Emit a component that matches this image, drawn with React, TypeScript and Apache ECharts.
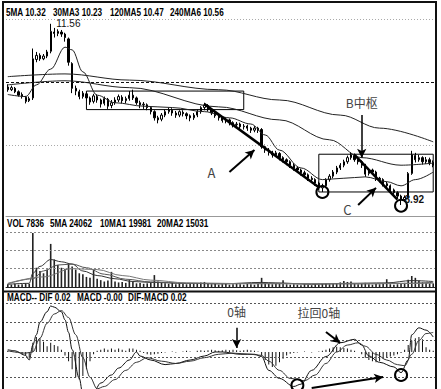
import React, { useEffect, useRef } from 'react';
import * as echarts from 'echarts';

// Daily bars: [open, close, low, high]
const candles: number[][] = [
  [10.64, 10.60, 10.57, 10.68], [10.60, 10.63, 10.58, 10.66], [10.62, 10.57, 10.55, 10.64], [10.57, 10.52, 10.50, 10.59],
  [10.53, 10.50, 10.47, 10.56], [10.49, 10.43, 10.40, 10.51], [10.44, 10.47, 10.42, 10.50], [10.48, 11.05, 10.45, 11.20],
  [11.04, 11.10, 11.00, 11.15], [11.10, 11.05, 11.02, 11.13], [11.05, 11.09, 11.03, 11.12], [11.09, 11.15, 11.06, 11.18],
  [11.16, 11.45, 11.13, 11.56], [11.44, 11.42, 11.36, 11.50], [11.42, 11.45, 11.38, 11.48], [11.44, 11.41, 11.37, 11.47],
  [11.41, 11.36, 11.30, 11.43], [11.34, 11.00, 10.95, 11.36], [10.98, 10.62, 10.55, 11.00], [10.62, 10.58, 10.52, 10.66],
  [10.57, 10.50, 10.46, 10.60], [10.50, 10.55, 10.47, 10.58], [10.54, 10.48, 10.44, 10.57], [10.48, 10.42, 10.38, 10.50],
  [10.43, 10.51, 10.40, 10.54], [10.50, 10.45, 10.41, 10.53], [10.45, 10.39, 10.34, 10.47], [10.40, 10.47, 10.37, 10.50],
  [10.46, 10.36, 10.32, 10.48], [10.37, 10.41, 10.33, 10.45], [10.41, 10.45, 10.38, 10.49], [10.45, 10.50, 10.42, 10.53],
  [10.49, 10.44, 10.40, 10.52], [10.44, 10.47, 10.40, 10.50], [10.47, 10.52, 10.44, 10.58], [10.52, 10.48, 10.45, 10.60],
  [10.48, 10.41, 10.38, 10.50], [10.41, 10.38, 10.33, 10.44], [10.38, 10.39, 10.32, 10.42], [10.38, 10.34, 10.30, 10.40],
  [10.34, 10.28, 10.24, 10.36], [10.28, 10.19, 10.15, 10.30], [10.19, 10.16, 10.11, 10.22], [10.17, 10.23, 10.14, 10.26],
  [10.23, 10.28, 10.20, 10.31], [10.28, 10.31, 10.25, 10.34], [10.30, 10.26, 10.22, 10.33], [10.26, 10.23, 10.19, 10.29],
  [10.23, 10.28, 10.20, 10.30], [10.27, 10.25, 10.21, 10.30], [10.25, 10.22, 10.17, 10.27], [10.22, 10.19, 10.14, 10.24],
  [10.19, 10.23, 10.16, 10.26], [10.23, 10.28, 10.20, 10.31], [10.28, 10.34, 10.25, 10.36], [10.34, 10.38, 10.30, 10.41],
  [10.37, 10.31, 10.28, 10.39], [10.31, 10.26, 10.23, 10.33], [10.26, 10.22, 10.19, 10.28], [10.22, 10.19, 10.15, 10.24],
  [10.19, 10.15, 10.12, 10.21], [10.15, 10.16, 10.11, 10.19], [10.16, 10.12, 10.08, 10.18], [10.12, 10.09, 10.05, 10.14],
  [10.09, 10.10, 10.05, 10.13], [10.10, 10.06, 10.02, 10.12], [10.06, 10.07, 10.02, 10.10], [10.07, 10.04, 10.00, 10.09],
  [10.04, 10.01, 9.97, 10.06], [10.01, 10.04, 9.98, 10.07], [10.04, 10.01, 9.97, 10.06], [10.02, 9.77, 9.74, 10.04],
  [9.77, 9.72, 9.68, 9.80], [9.72, 9.69, 9.64, 9.75], [9.69, 9.65, 9.61, 9.71], [9.65, 9.68, 9.62, 9.71],
  [9.67, 9.61, 9.57, 9.69], [9.61, 9.58, 9.54, 9.63], [9.58, 9.55, 9.50, 9.60], [9.55, 9.50, 9.46, 9.57],
  [9.50, 9.46, 9.42, 9.53], [9.46, 9.43, 9.39, 9.48], [9.43, 9.39, 9.35, 9.45], [9.39, 9.36, 9.32, 9.42],
  [9.36, 9.31, 9.27, 9.38], [9.31, 9.29, 9.24, 9.34], [9.29, 9.24, 9.20, 9.31], [9.24, 9.17, 9.14, 9.26],
  [9.17, 9.20, 9.11, 9.23], [9.20, 9.29, 9.18, 9.31], [9.29, 9.34, 9.26, 9.37], [9.34, 9.40, 9.31, 9.43],
  [9.40, 9.46, 9.37, 9.49], [9.46, 9.50, 9.43, 9.53], [9.50, 9.55, 9.47, 9.58], [9.55, 9.61, 9.52, 9.64],
  [9.61, 9.65, 9.58, 9.69], [9.64, 9.58, 9.55, 9.67], [9.58, 9.55, 9.51, 9.60], [9.55, 9.50, 9.46, 9.57],
  [9.50, 9.37, 9.33, 9.52], [9.38, 9.43, 9.35, 9.46], [9.43, 9.40, 9.36, 9.45], [9.40, 9.31, 9.27, 9.42],
  [9.31, 9.29, 9.25, 9.33], [9.29, 9.23, 9.19, 9.31], [9.23, 9.20, 9.16, 9.26], [9.20, 9.14, 9.10, 9.22],
  [9.14, 9.10, 9.06, 9.16], [9.10, 9.05, 9.01, 9.12], [9.05, 9.00, 8.92, 9.07], [9.00, 9.03, 8.97, 9.06],
  [9.03, 9.38, 9.01, 9.40], [9.38, 9.65, 9.36, 9.71], [9.64, 9.58, 9.54, 9.68], [9.58, 9.61, 9.55, 9.65],
  [9.61, 9.55, 9.51, 9.63], [9.55, 9.58, 9.52, 9.62], [9.58, 9.54, 9.50, 9.61], [9.54, 9.50, 9.47, 9.57],
];
const days = candles.map((_, i) => `D${i + 1}`);

// Moving averages of price, [bar index, value]
const ma30 = [[0, 10.53], [5, 10.50], [8, 10.67], [12, 10.90], [16, 11.22], [18, 11.18], [21, 10.86], [25, 10.52], [30, 10.41], [38, 10.36], [46, 10.34], [55, 10.28], [62, 10.19], [68, 10.10], [72, 9.94], [76, 9.72], [82, 9.46], [88, 9.29], [94, 9.31], [100, 9.33], [106, 9.26], [110, 9.20], [114, 9.29], [119, 9.40]];
const ma120 = [[0, 10.67], [16, 10.73], [34, 10.63], [59, 10.35], [76, 10.16], [90, 9.87], [99, 9.61], [110, 9.50], [119, 9.53]];
const ma240 = [[0, 10.79], [16, 10.83], [34, 10.74], [59, 10.60], [76, 10.45], [93, 10.23], [104, 10.04], [119, 9.84]];

const volumes = [
  6000, 5000, 7000, 5000, 6000, 8000, 7000, 118000, 42000, 35000,
  30000, 38000, 94000, 60000, 48000, 42000, 40000, 52000, 45000, 38000,
  30000, 28000, 22000, 20000, 37000, 18000, 15000, 12000, 14000, 33000,
  12000, 10000, 11000, 9000, 15000, 12000, 8000, 9000, 7000, 8000,
  10000, 26000, 12000, 9000, 8000, 7000, 9000, 6000, 8000, 7000,
  6000, 9000, 7000, 8000, 10000, 11000, 7000, 6000, 8000, 5000,
  6000, 7000, 5000, 6000, 8000, 6000, 5000, 7000, 6000, 5000,
  7000, 20000, 9000, 7000, 6000, 8000, 7000, 15000, 6000, 5000,
  6000, 5000, 4000, 6000, 5000, 4000, 6000, 5000, 7000, 8000,
  6000, 9000, 7000, 10000, 13000, 11000, 12000, 8000, 6000, 7000,
  9000, 6000, 5000, 7000, 6000, 8000, 17000, 6000, 5000, 6000,
  7000, 9000, 16000, 24000, 20000, 14000, 10000, 9000, 8000, 7836,
];
const volMa5 = [[0, 6000], [6, 8000], [7, 30000], [9, 45000], [12, 60000], [15, 55000], [18, 50000], [21, 35000], [25, 25000], [30, 18000], [35, 12000], [40, 10000], [50, 8000], [60, 7000], [71, 10000], [75, 9000], [85, 6000], [95, 8000], [106, 9000], [113, 14000], [119, 12000]];
const volMa10 = [[0, 7000], [7, 18000], [10, 35000], [14, 48000], [18, 50000], [22, 42000], [27, 28000], [33, 17000], [40, 11000], [50, 8000], [60, 7000], [72, 8000], [85, 7000], [100, 7000], [110, 8000], [119, 10000]];
const volMa20 = [[0, 8000], [10, 22000], [18, 40000], [25, 38000], [32, 25000], [40, 15000], [50, 9000], [70, 7000], [90, 7000], [119, 8000]];

const macdHist = [
  0.01, 0.01, 0.0, -0.01, -0.02, -0.03, -0.05,
  0.08, 0.13, 0.12, 0.09, 0.05, 0.08, 0.06, 0.05, 0.02,
  -0.03, -0.08, -0.15, -0.22, -0.24, -0.21, -0.15, -0.08, -0.02,
  0.01, 0.02, 0.03, 0.02, 0.03, 0.02, 0.03, 0.02, 0.01, 0.03, 0.03, 0.02, 0.01,
  -0.01, -0.02, -0.025, -0.02, -0.015, -0.01, -0.005, 0.0, 0.005, -0.005, 0.0, 0.005, 0.01, 0.005, 0.0, 0.01, 0.015, 0.01, 0.015, 0.02, 0.015, 0.01,
  0.015, 0.02, 0.015, 0.02, 0.015, 0.01, 0.015, 0.02, 0.015, 0.01, 0.005,
  -0.03, -0.07, -0.11, -0.13, -0.12, -0.09, -0.06, -0.03,
  -0.015, -0.01, -0.005, 0.0, 0.005, 0.0, -0.005, 0.0, 0.005,
  0.01, 0.02, 0.03, 0.04, 0.045, 0.04, 0.035, 0.03, 0.02, 0.01,
  0.0,
  -0.02, -0.05, -0.07, -0.08, -0.09, -0.08, -0.06, -0.05, -0.04, -0.03, -0.02, -0.01,
  0.02, 0.06, 0.10, 0.12, 0.13, 0.11, 0.04, 0.02, 0.01,
];
const dif = [[0, 0.02], [2, 0.01], [5, -0.03], [6, -0.07], [7, 0.06], [8, 0.15], [9, 0.26], [11, 0.35], [12, 0.40], [13, 0.39], [15, 0.35], [16, 0.28], [17, 0.17], [18, 0.02], [20, -0.23], [21, -0.37], [22, -0.42], [24, -0.35], [26, -0.27], [29, -0.20], [31, -0.14], [34, -0.07], [36, 0.0], [37, -0.035], [40, -0.07], [44, -0.11], [47, -0.10], [51, -0.07], [55, -0.035], [58, 0], [60, 0], [65, -0.02], [69, -0.02], [71, -0.04], [73, -0.16], [76, -0.23], [80, -0.30], [82, -0.28], [85, -0.16], [89, -0.04], [93, 0.08], [97, 0.11], [99, 0.06], [101, -0.035], [104, -0.09], [108, -0.13], [110, -0.18], [112, -0.07], [113, 0.15], [115, 0.21], [117, 0.19], [119, 0.13]];
const dea = [[0, 0.01], [5, -0.01], [7, 0.0], [9, 0.12], [11, 0.25], [13, 0.33], [15, 0.36], [17, 0.30], [19, 0.15], [21, -0.05], [23, -0.22], [25, -0.32], [27, -0.30], [30, -0.24], [33, -0.16], [36, -0.09], [39, -0.05], [43, -0.08], [47, -0.10], [51, -0.08], [55, -0.05], [59, -0.02], [63, -0.01], [68, -0.02], [71, -0.03], [73, -0.08], [76, -0.16], [79, -0.23], [83, -0.25], [86, -0.20], [89, -0.10], [92, 0.0], [95, 0.06], [98, 0.08], [100, 0.05], [103, -0.02], [106, -0.07], [109, -0.11], [111, -0.12], [113, -0.02], [115, 0.10], [117, 0.16], [119, 0.17]];

// Panel readouts
const priceHeader = ['5MA 10.32', '30MA3 10.23', '120MA5 10.47', '240MA6 10.56'];
const volHeader = ['VOL 7836', '5MA 24062', '10MA1 19981', '20MA2 15031'];
const macdHeader = ['MACD-- DIF 0.02', 'MACD -0.00', 'DIF-MACD 0.02'];

// Reference levels of each panel
const priceGuides = [11.63, 10.712, 9.794];
const volGuides = [40000, 80000, 120000];
const macdGuides = [0.417, 0.261, 0.104, -0.052, -0.217];

// Analysis markup, in [bar index, value]
const pivotBoxes = [[[22, 10.58], [66, 10.31]], [[87, 9.66], [119, 9.11]]];
const trendLines = [[[55, 10.39], [87, 9.18]], [[97, 9.65], [109, 9.0]]];
const priceArrows = [[[62, 9.40], [69, 9.72]], [[99, 10.23], [99, 9.61]], [[98, 8.92], [103, 9.17]]];
const priceNotes: [string, number, number][] = [['A', 57, 9.40], ['B中枢', 99, 10.42], ['C', 95, 8.85]];
const priceRings = [[88, 9.11], [110, 8.91]];
const macdNotes: [string, number, number][] = [['0轴', 64, 0.35], ['拉回0轴', 87, 0.34]];
const macdArrows = [[[64, 0.21], [64, 0.035]], [[89, 0.174], [93, 0.078]], [[85, -0.313], [105, -0.217]]];
const macdRings = [[81, -0.29], [110, -0.20]];

const HEAD_FONT = "bold 10px 'Liberation Sans', Arial, sans-serif";
const CJK = "'Noto Sans CJK SC', 'Noto Sans', sans-serif";

// Condensed bold readouts along the top of each panel
function headerTexts(texts: string[], xs: number[], y: number) {
  return texts.map((text, k) => ({
    type: 'text', x: xs[k], y, scaleX: 0.82, silent: true, z: 50,
    style: { text, font: HEAD_FONT, fill: '#000', verticalAlign: 'middle' },
  }));
}

const note = ([text, i, v]: [string, number, number], fontSize: number) => ({
  coord: [i, v], symbol: 'circle', symbolSize: 1,
  itemStyle: { color: 'rgba(0,0,0,0)' },
  label: { show: true, position: 'inside', formatter: text, color: '#444', fontSize, fontFamily: CJK },
});
const ring = (p: number[]) => ({
  coord: p, symbol: 'circle', symbolSize: 12,
  itemStyle: { color: 'rgba(0,0,0,0)', borderColor: '#000', borderWidth: 2 },
  label: { show: false },
});
const arrow = (seg: number[][], width: number) => [
  { coord: seg[0], symbol: 'none', lineStyle: { color: '#000', width, type: 'solid' } },
  { coord: seg[1], symbol: 'arrow', symbolSize: [7, 9] },
];
const stroke = (seg: number[][], width: number) => [
  { coord: seg[0], symbol: 'none', lineStyle: { color: '#000', width, type: 'solid' } },
  { coord: seg[1], symbol: 'none' },
];
const guide = (v: number, color: string, type: any) => ({ yAxis: v, lineStyle: { color, width: 1, type } });

function maLine(data: number[][], axis: number, color = '#222') {
  return {
    type: 'line', xAxisIndex: axis, yAxisIndex: axis, data, smooth: 0.35, smoothMonotone: 'x',
    symbol: 'none', silent: true, lineStyle: { color, width: 1 },
  };
}

function buildOption() {
  const highest = Math.max(...candles.map((c) => c[3]));
  const lowest = Math.min(...candles.map((c) => c[2]));
  const hiIdx = candles.findIndex((c) => c[3] === highest);
  const loIdx = candles.findIndex((c) => c[2] === lowest);

  const xAxis = [0, 1, 2].map((g) => ({
    type: 'category', gridIndex: g, data: days, boundaryGap: true,
    axisLabel: { show: false }, axisTick: { show: false }, splitLine: { show: false },
    axisLine: { show: g < 2, onZero: false, lineStyle: { color: g === 0 ? '#999' : '#222', width: 1 } },
  }));
  const yAxis = [
    { gridIndex: 0, min: 8.76, max: 11.63, show: false },
    { gridIndex: 1, min: 0, max: 120000, show: false },
    { gridIndex: 2, min: -0.322, max: 0.452, show: false },
  ];

  return {
    animation: false,
    backgroundColor: '#fff',
    grid: [
      { left: 6, right: 6, top: 19, height: 197 },
      { left: 6, right: 6, top: 232, height: 55 },
      { left: 6, right: 6, top: 300, height: 89 },
    ],
    xAxis, yAxis,
    series: [
      {
        type: 'candlestick', xAxisIndex: 0, yAxisIndex: 0, data: candles, silent: true,
        barMaxWidth: 2.6,
        itemStyle: { color: '#fff', color0: '#000', borderColor: '#000', borderColor0: '#000', borderWidth: 1 },
        markArea: {
          silent: true,
          itemStyle: { color: 'rgba(0,0,0,0)', borderColor: '#000', borderWidth: 1 },
          data: pivotBoxes.map((b) => [{ coord: b[0] }, { coord: b[1] }]),
        },
        markLine: {
          silent: true, symbol: ['none', 'none'], label: { show: false },
          data: [
            guide(priceGuides[0], '#aaa', [1, 2]),
            guide(priceGuides[1], '#111', [3, 2]),
            guide(priceGuides[2], '#aaa', [1, 2]),
            ...trendLines.map((s) => stroke(s, 2.5)),
            arrow(priceArrows[0], 2),
            arrow(priceArrows[1], 1.5),
            arrow(priceArrows[2], 2),
          ],
        },
        markPoint: {
          silent: true,
          data: [
            ...priceRings.map(ring),
            ...priceNotes.map((n) => note(n, n[0] === 'B中枢' ? 12 : 13)),
            {
              coord: [hiIdx, highest], symbol: 'circle', symbolSize: 1, itemStyle: { color: 'rgba(0,0,0,0)' },
              label: { show: true, position: 'right', distance: 5, formatter: highest.toFixed(2), color: '#111', fontSize: 10, fontFamily: 'Liberation Sans, sans-serif' },
            },
            {
              coord: [loIdx, lowest], symbol: 'circle', symbolSize: 1, itemStyle: { color: 'rgba(0,0,0,0)' },
              label: { show: true, position: 'right', distance: 3, offset: [0, -6], formatter: lowest.toFixed(2), color: '#111', fontSize: 10, fontWeight: 'bold', fontFamily: 'Liberation Sans, sans-serif' },
            },
          ],
        },
      },
      maLine(ma30, 0),
      maLine(ma120, 0),
      maLine(ma240, 0),
      {
        type: 'bar', xAxisIndex: 1, yAxisIndex: 1, data: volumes, barWidth: '45%', silent: true,
        itemStyle: { color: '#222' },
        markLine: {
          silent: true, symbol: ['none', 'none'], label: { show: false },
          data: volGuides.map((v) => guide(v, '#888', [2, 2])),
        },
      },
      maLine(volMa5, 1, '#333'),
      maLine(volMa10, 1, '#555'),
      maLine(volMa20, 1, '#777'),
      {
        type: 'bar', xAxisIndex: 2, yAxisIndex: 2, data: macdHist, barWidth: 1, silent: true,
        itemStyle: { color: '#111' },
        markLine: {
          silent: true, symbol: ['none', 'none'], label: { show: false },
          data: [
            ...macdGuides.map((v) => guide(v, '#555', [2, 2])),
            arrow(macdArrows[0], 1.5),
            arrow(macdArrows[1], 2),
            arrow(macdArrows[2], 2),
          ],
        },
        markPoint: {
          silent: true,
          data: [...macdRings.map(ring), ...macdNotes.map((n) => note(n, 12))],
        },
      },
      maLine(dif, 2, '#111'),
      maLine(dea, 2, '#333'),
    ],
    graphic: [
      {
        type: 'rect', silent: true, z: 60,
        shape: { x: 3, y: 2, width: 433, height: 400 },
        style: { fill: 'none', stroke: '#111', lineWidth: 2 },
      },
      {
        type: 'line', silent: true, z: 60,
        shape: { x1: 4, y1: 291.5, x2: 436, y2: 291.5 },
        style: { stroke: '#111', lineWidth: 2 },
      },
      ...headerTexts(priceHeader, [6, 53, 110, 170], 13),
      ...headerTexts(volHeader, [7, 50, 100, 157], 224),
      ...headerTexts(macdHeader, [7, 77, 128], 298),
    ],
  };
}

export default function App() {
  const ref = useRef<HTMLDivElement>(null);
  useEffect(() => {
    const chart = echarts.init(ref.current!, null, { renderer: 'svg' });
    chart.setOption(buildOption() as any);
    return () => chart.dispose();
  }, []);
  return (
    <div
      ref={ref}
      style={{ position: 'absolute', left: 0, top: 0, width: 441, height: 389, background: '#fff' }}
    />
  );
}
